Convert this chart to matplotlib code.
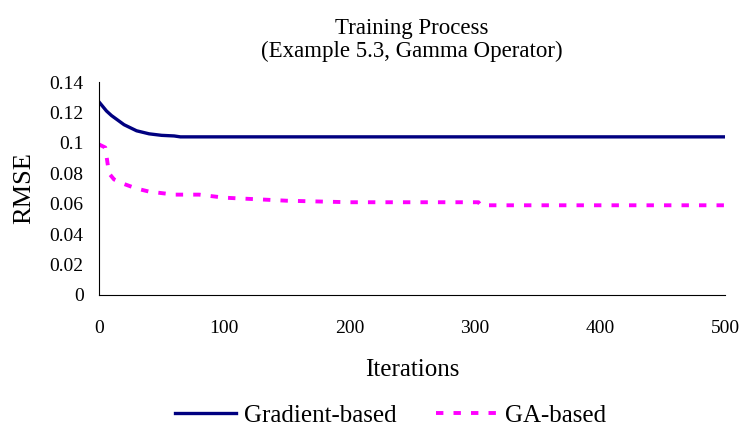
import numpy as np
import matplotlib.pyplot as plt

plt.rcParams['font.family'] = ['Liberation Serif', 'DejaVu Serif']

grad_iter = [0, 3, 6, 10, 15, 20, 25, 30, 35, 40, 45, 50, 55, 60, 65, 200, 500]
grad_rmse = [0.127, 0.124, 0.121, 0.118, 0.115, 0.112, 0.110, 0.108, 0.107, 0.106,
             0.1055, 0.105, 0.1048, 0.1046, 0.1040, 0.1040, 0.1040]

ga_iter = [0, 5, 8, 12, 20, 30, 40, 50, 60, 80, 100, 150, 200, 250, 303, 305, 500]
ga_rmse = [0.099, 0.097, 0.080, 0.076, 0.073, 0.070, 0.068, 0.067, 0.066, 0.066,
           0.064, 0.062, 0.061, 0.061, 0.061, 0.059, 0.059]

fig = plt.figure(figsize=(7.41, 4.30), dpi=100)
ax = fig.add_axes([0.1336, 0.314, 0.845, 0.495])

ax.plot(grad_iter, grad_rmse, color='#000080', lw=2.4, label='Gradient-based')
ax.plot(ga_iter, ga_rmse, color='#ff00ff', lw=2.8, dashes=(1.9, 2.6), label='GA-based')

ax.set_xlim(0, 500)
ax.set_ylim(0, 0.14)
ax.set_xticks([0, 100, 200, 300, 400, 500])
ax.set_yticks(np.arange(0, 0.141, 0.02))
ax.set_yticklabels(['0', '0.02', '0.04', '0.06', '0.08', '0.1', '0.12', '0.14'])
ax.tick_params(length=0, labelsize=14)
ax.tick_params(axis='x', pad=18)
ax.tick_params(axis='y', pad=11)
for s in ['top', 'right']:
    ax.spines[s].set_visible(False)

ax.set_title('Training Process\n(Example 5.3, Gamma Operator)', fontsize=16.5,
             linespacing=1.15, pad=18)
ax.set_xlabel('Iterations', fontsize=18, labelpad=16)
ax.set_ylabel('RMSE', fontsize=19, labelpad=10)

fig.legend(loc='lower center', bbox_to_anchor=(0.527, -0.045), ncol=2, frameon=False,
           fontsize=18, handlelength=2.45, handletextpad=0.3, columnspacing=1.6)

fig.savefig('out.png', dpi=100)
